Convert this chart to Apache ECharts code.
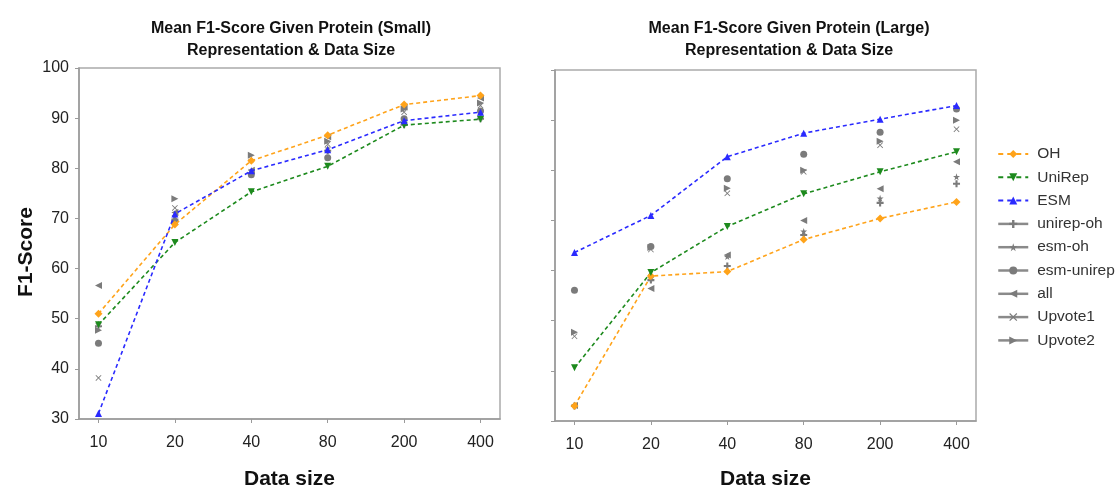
<!DOCTYPE html>
<html>
<head>
<meta charset="utf-8">
<script src="https://cdn.jsdelivr.net/npm/echarts@6/dist/echarts.min.js"></script>
<style>
html,body{margin:0;padding:0;background:#fff;}
#chart{width:1118px;height:487px;}
</style>
</head>
<body>
<div id="chart"></div>
<script>
// ---- data ----
const sizes = ['10', '20', '40', '80', '200', '400'];
const yTicks = [30, 40, 50, 60, 70, 80, 90, 100];
const seriesNames = ['OH', 'UniRep', 'ESM', 'unirep-oh', 'esm-oh', 'esm-unirep', 'all', 'Upvote1', 'Upvote2'];

// Small protein
const smallOH        = [51.0, 68.8, 81.5, 86.6, 92.7, 94.5];
const smallUniRep    = [48.8, 65.2, 75.3, 80.4, 88.6, 89.8];
const smallESM       = [31.1, 70.9, 79.5, 83.7, 89.5, 91.2];
const smallUnirepOH  = [48.5, 69.8, 79.0, 83.5, 88.7, 89.9];
const smallEsmOH     = [48.9, 70.5, 81.7, 84.0, 89.0, 90.2];
const smallEsmUnirep = [45.1, 69.4, 78.7, 82.1, 89.9, 91.4];
const smallAll       = [56.6, 71.2, 79.6, 86.3, 92.2, 94.0];
const smallUpvote1   = [38.2, 72.1, 79.3, 84.8, 91.2, 92.5];
const smallUpvote2   = [47.7, 73.9, 82.6, 85.4, 91.8, 93.0];

// Large protein
const largeOH        = [33.0, 58.9, 59.8, 66.2, 70.4, 73.7];
const largeUniRep    = [40.6, 59.6, 68.8, 75.3, 79.7, 83.7];
const largeESM       = [63.6, 71.0, 82.7, 87.4, 90.2, 92.9];
const largeUnirepOH  = [33.0, 58.1, 60.9, 67.1, 73.5, 77.3];
const largeEsmOH     = [33.2, 58.5, 62.8, 67.8, 74.4, 78.7];
const largeEsmUnirep = [56.1, 64.8, 78.3, 83.2, 87.6, 92.2];
const largeAll       = [33.1, 56.4, 63.1, 70.0, 76.3, 81.7];
const largeUpvote1   = [46.9, 64.2, 75.4, 79.7, 85.0, 88.2];
const largeUpvote2   = [47.7, 64.6, 76.4, 80.0, 85.8, 90.0];

// ---- styles ----
const SYM = {
  'OH': 'diamond',
  'UniRep': 'path://M0,0 L10,0 L5,10 Z',
  'ESM': 'path://M5,0 L10,10 L0,10 Z',
  'unirep-oh': 'path://M3.5,0 H6.5 V3.5 H10 V6.5 H6.5 V10 H3.5 V6.5 H0 V3.5 H3.5 Z',
  'esm-oh': 'path://M5,0 L6.2,3.6 L10,3.6 L6.9,5.9 L8.1,9.5 L5,7.3 L1.9,9.5 L3.1,5.9 L0,3.6 L3.8,3.6 Z',
  'esm-unirep': 'circle',
  'all': 'path://M10,0 L10,10 L0,5 Z',
  'Upvote1': 'path://M1,0 L5,4 L9,0 L10,1 L6,5 L10,9 L9,10 L5,6 L1,10 L0,9 L4,5 L0,1 Z',
  'Upvote2': 'path://M0,0 L0,10 L10,5 Z'
};
const COL = {'OH': '#ffa31a', 'UniRep': '#1d8a1d', 'ESM': '#2a2aff'};
const GRAY = '#7b7b7b';

function mk(name, vals, gi) {
  const colored = COL[name] !== undefined;
  const c = colored ? COL[name] : GRAY;
  const sz = {'OH': 8, 'UniRep': 7, 'ESM': 7, 'esm-oh': 7, 'Upvote1': 6}[name] || 7;
  return {
    name: name,
    type: 'line',
    xAxisIndex: gi, yAxisIndex: gi,
    data: vals.map((v, i) => [i, v]),
    symbol: SYM[name],
    symbolSize: sz,
    showSymbol: true,
    z: colored ? 5 : 3,
    itemStyle: {color: c, opacity: 1},
    lineStyle: colored ? {color: c, width: 1.6, type: [4, 3]} : {width: 0, opacity: 0},
    emphasis: {disabled: true},
    animation: false
  };
}

const smallSets = [smallOH, smallUniRep, smallESM, smallUnirepOH, smallEsmOH, smallEsmUnirep, smallAll, smallUpvote1, smallUpvote2];
const largeSets = [largeOH, largeUniRep, largeESM, largeUnirepOH, largeEsmOH, largeEsmUnirep, largeAll, largeUpvote1, largeUpvote2];

const series = [];
// gray first, colored on top
[3,4,5,6,7,8,0,1,2].forEach(k => {
  series.push(mk(seriesNames[k], smallSets[k], 0));
  series.push(mk(seriesNames[k], largeSets[k], 1));
});

const tickIdx = sizes.map((s, i) => i);
function xAxis(gi, gap) {
  return {
    type: 'value', gridIndex: gi,
    min: -0.255, max: 5.255,
    name: 'Data size', nameLocation: 'middle', nameGap: gap,
    nameTextStyle: {fontFamily: 'Liberation Sans', fontWeight: 'bold', fontSize: 21, color: '#111'},
    axisLine: {show: true, onZero: false, lineStyle: {color: '#9a9a9a', width: 1.5}},
    axisTick: {show: true, customValues: tickIdx, length: 4, lineStyle: {color: '#9a9a9a'}},
    axisLabel: {customValues: tickIdx, formatter: v => sizes[Math.round(v)], margin: 16,
      fontFamily: 'Liberation Sans', fontSize: 16, color: '#222'},
    splitLine: {show: false}
  };
}
function yAxis(gi, showLabels) {
  return {
    type: 'value', gridIndex: gi,
    min: 30, max: 100, interval: 10,
    axisLine: {show: true, onZero: false, lineStyle: {color: '#9a9a9a', width: 1.5}},
    axisTick: {show: true, length: 4, lineStyle: {color: '#9a9a9a'}},
    axisLabel: {show: showLabels, margin: 10, fontFamily: 'Liberation Sans', fontSize: 16, color: '#222'},
    splitLine: {show: false}
  };
}

const legendData = seriesNames.map(n => {
  const colored = COL[n] !== undefined;
  return {
    name: n,
    itemStyle: {color: colored ? COL[n] : GRAY},
    lineStyle: colored ? {color: COL[n], width: 2, type: [5, 4], opacity: 1} : {color: '#8a8a8a', width: 2.5, type: 'solid', opacity: 1}
  };
});

const option = {
  backgroundColor: '#fff',
  animation: false,
  title: [
    {text: 'Mean F1-Score Given Protein (Small)\nRepresentation & Data Size', left: 286, top: 13, textAlign: 'center',
     textStyle: {fontFamily: 'Liberation Sans', fontWeight: 'bold', fontSize: 16, lineHeight: 22, color: '#111'}},
    {text: 'Mean F1-Score Given Protein (Large)\nRepresentation & Data Size', left: 784, top: 13, textAlign: 'center',
     textStyle: {fontFamily: 'Liberation Sans', fontWeight: 'bold', fontSize: 16, lineHeight: 22, color: '#111'}}
  ],
  grid: [
    {left: 79, top: 68, width: 421, height: 351, outerBoundsMode: 'none', containLabel: false, show: true, borderColor: '#aaaaaa', borderWidth: 1.5, backgroundColor: '#fff'},
    {left: 555, top: 70, width: 421, height: 351, outerBoundsMode: 'none', containLabel: false, show: true, borderColor: '#aaaaaa', borderWidth: 1.5, backgroundColor: '#fff'}
  ],
  xAxis: [xAxis(0, 50), xAxis(1, 48)],
  yAxis: [yAxis(0, true), yAxis(1, false)],
  graphic: [{
    type: 'text', x: 26, y: 252, rotation: Math.PI / 2,
    style: {text: 'F1-Score', font: 'bold 21px "Liberation Sans"', fill: '#111', textAlign: 'center', textVerticalAlign: 'middle'}
  }],
  legend: {
    orient: 'vertical', left: 992, top: 140,
    itemWidth: 30, itemHeight: 10, itemGap: 5.3,
    textStyle: {fontFamily: 'Liberation Sans', fontSize: 15.5, lineHeight: 18, color: '#333', padding: [0, 0, 0, 4]},
    data: legendData,
    selectedMode: false
  },
  series: series
};

const chart = echarts.init(document.getElementById('chart'), null, {renderer: 'canvas'});
chart.setOption(option);
</script>
</body>
</html>
